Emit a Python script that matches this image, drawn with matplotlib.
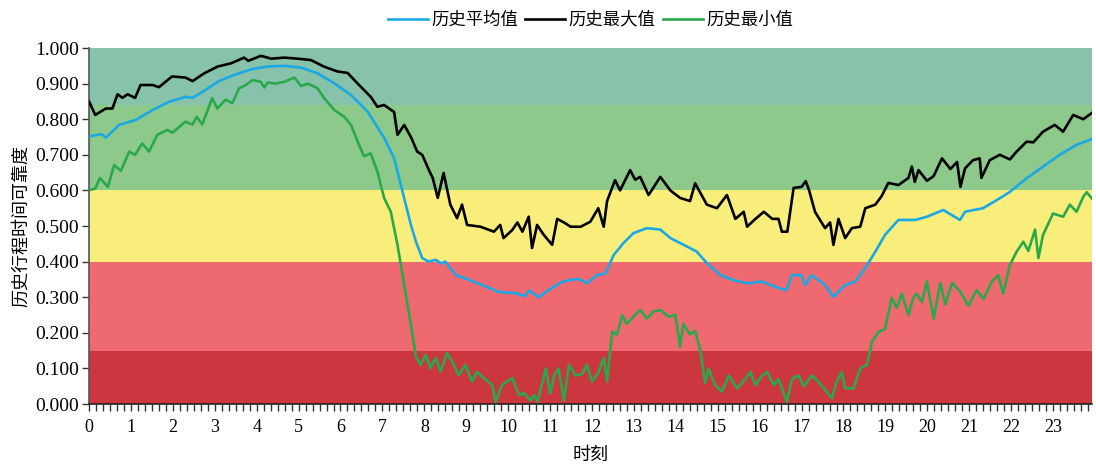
import numpy as np
import matplotlib
matplotlib.use("Agg")
import matplotlib.pyplot as plt
from matplotlib.ticker import MultipleLocator

plt.rcParams['font.family'] = ['Liberation Serif', 'Noto Sans CJK SC', 'DejaVu Sans']

# 历史平均值
t_mean = [0.00, 0.09, 0.30, 0.40, 0.72, 1.12, 1.52, 1.91, 2.31, 2.47, 2.71, 3.10, 3.50, 3.90,
          4.26, 4.66, 5.06, 5.45, 5.85, 6.25, 6.65, 7.05, 7.28, 7.44, 7.68, 7.80, 7.95, 8.10,
          8.27, 8.40, 8.50, 8.75, 8.98, 9.38, 9.77, 10.18, 10.40, 10.50, 10.73, 10.96, 11.30,
          11.56, 11.72, 11.88, 12.12, 12.32, 12.52, 12.75, 12.99, 13.31, 13.63, 13.87, 14.19,
          14.50, 14.74, 15.06, 15.38, 15.70, 16.06, 16.44, 16.64, 16.77, 17.00, 17.08, 17.24,
          17.56, 17.76, 18.04, 18.28, 18.52, 18.76, 18.99, 19.31, 19.71, 19.99, 20.38, 20.78,
          20.90, 21.33, 21.73, 21.97, 22.37, 22.76, 23.16, 23.56, 23.92]
v_mean = [0.750, 0.754, 0.758, 0.748, 0.784, 0.798, 0.826, 0.849, 0.863, 0.860, 0.877, 0.907,
          0.926, 0.941, 0.948, 0.950, 0.945, 0.929, 0.901, 0.868, 0.821, 0.746, 0.690, 0.615,
          0.503, 0.456, 0.410, 0.400, 0.405, 0.395, 0.400, 0.362, 0.353, 0.334, 0.315, 0.311,
          0.303, 0.319, 0.300, 0.320, 0.344, 0.350, 0.350, 0.339, 0.362, 0.367, 0.419, 0.452,
          0.480, 0.494, 0.490, 0.466, 0.447, 0.428, 0.396, 0.362, 0.348, 0.339, 0.344, 0.326,
          0.320, 0.362, 0.362, 0.334, 0.362, 0.334, 0.301, 0.334, 0.344, 0.382, 0.428, 0.475,
          0.517, 0.517, 0.526, 0.545, 0.517, 0.540, 0.550, 0.578, 0.596, 0.634, 0.667, 0.700,
          0.728, 0.744]

# 历史最大值
t_max = [0.00, 0.15, 0.40, 0.56, 0.68, 0.80, 0.92, 1.10, 1.23, 1.52, 1.67, 1.98, 2.30, 2.47,
         2.75, 3.07, 3.39, 3.70, 3.80, 4.10, 4.35, 4.66, 4.98, 5.30, 5.60, 5.93, 6.17, 6.41,
         6.72, 6.88, 7.04, 7.28, 7.36, 7.52, 7.68, 7.83, 7.95, 8.11, 8.20, 8.32, 8.46, 8.62,
         8.78, 8.90, 9.02, 9.34, 9.66, 9.81, 9.89, 10.10, 10.22, 10.34, 10.49, 10.57, 10.69,
         10.85, 11.05, 11.17, 11.33, 11.49, 11.73, 11.96, 12.15, 12.28, 12.36, 12.55, 12.67,
         12.91, 13.03, 13.15, 13.35, 13.63, 13.87, 14.10, 14.34, 14.46, 14.74, 14.98, 15.22,
         15.42, 15.62, 15.70, 15.90, 16.10, 16.30, 16.45, 16.53, 16.66, 16.81, 17.00, 17.10,
         17.18, 17.32, 17.56, 17.68, 17.76, 17.88, 18.04, 18.20, 18.40, 18.52, 18.76, 18.91,
         19.07, 19.31, 19.55, 19.63, 19.70, 19.79, 19.99, 20.15, 20.35, 20.55, 20.71, 20.79,
         20.90, 21.09, 21.25, 21.29, 21.49, 21.73, 21.97, 22.13, 22.37, 22.53, 22.76, 23.04,
         23.24, 23.48, 23.72, 23.92]
v_max = [0.850, 0.812, 0.830, 0.830, 0.870, 0.860, 0.870, 0.860, 0.896, 0.896, 0.890, 0.920,
         0.917, 0.907, 0.929, 0.948, 0.957, 0.973, 0.964, 0.978, 0.970, 0.973, 0.970, 0.966,
         0.948, 0.934, 0.930, 0.900, 0.863, 0.835, 0.840, 0.820, 0.756, 0.784, 0.750, 0.709,
         0.700, 0.657, 0.635, 0.579, 0.649, 0.560, 0.522, 0.560, 0.503, 0.498, 0.484, 0.503,
         0.466, 0.489, 0.510, 0.484, 0.526, 0.438, 0.503, 0.475, 0.447, 0.520, 0.510, 0.498,
         0.498, 0.512, 0.550, 0.498, 0.570, 0.629, 0.600, 0.657, 0.630, 0.638, 0.587, 0.638,
         0.600, 0.579, 0.570, 0.620, 0.560, 0.550, 0.587, 0.520, 0.540, 0.498, 0.520, 0.540,
         0.520, 0.520, 0.484, 0.484, 0.607, 0.610, 0.626, 0.600, 0.540, 0.494, 0.510, 0.447,
         0.520, 0.466, 0.494, 0.498, 0.550, 0.560, 0.584, 0.621, 0.615, 0.635, 0.667, 0.624,
         0.657, 0.627, 0.640, 0.690, 0.660, 0.680, 0.610, 0.662, 0.685, 0.690, 0.635, 0.685,
         0.700, 0.687, 0.709, 0.737, 0.735, 0.765, 0.784, 0.765, 0.812, 0.800, 0.817]

# 历史最小值
t_min = [0.00, 0.15, 0.26, 0.45, 0.60, 0.76, 0.96, 1.10, 1.27, 1.43, 1.63, 1.87, 1.99, 2.30,
         2.47, 2.57, 2.70, 2.94, 3.06, 3.26, 3.42, 3.58, 3.73, 3.90, 4.10, 4.18, 4.26, 4.45,
         4.66, 4.90, 5.06, 5.22, 5.45, 5.61, 5.85, 6.09, 6.25, 6.41, 6.56, 6.72, 6.88, 7.04,
         7.20, 7.36, 7.52, 7.68, 7.80, 7.91, 8.03, 8.15, 8.27, 8.39, 8.54, 8.66, 8.82, 8.98,
         9.14, 9.26, 9.42, 9.62, 9.70, 9.85, 10.10, 10.26, 10.38, 10.54, 10.62, 10.70, 10.90,
         11.00, 11.10, 11.20, 11.33, 11.45, 11.61, 11.77, 11.88, 12.00, 12.16, 12.28, 12.36,
         12.48, 12.60, 12.72, 12.83, 12.99, 13.15, 13.31, 13.47, 13.63, 13.83, 13.99, 14.10,
         14.18, 14.34, 14.46, 14.58, 14.70, 14.78, 14.94, 15.10, 15.26, 15.46, 15.66, 15.78,
         15.90, 16.06, 16.18, 16.34, 16.45, 16.65, 16.77, 16.93, 17.05, 17.25, 17.40, 17.56,
         17.72, 17.84, 17.96, 18.04, 18.24, 18.40, 18.56, 18.68, 18.84, 18.99, 19.15, 19.27,
         19.39, 19.55, 19.67, 19.75, 19.87, 19.99, 20.15, 20.31, 20.43, 20.59, 20.79, 20.98,
         21.18, 21.34, 21.54, 21.69, 21.81, 21.97, 22.13, 22.29, 22.41, 22.57, 22.65, 22.76,
         23.00, 23.24, 23.40, 23.56, 23.72, 23.80, 23.92]
v_min = [0.601, 0.605, 0.635, 0.610, 0.671, 0.655, 0.709, 0.700, 0.732, 0.709, 0.756, 0.770,
         0.762, 0.793, 0.785, 0.807, 0.785, 0.859, 0.830, 0.855, 0.845, 0.887, 0.895, 0.910,
         0.905, 0.889, 0.903, 0.900, 0.905, 0.917, 0.893, 0.900, 0.887, 0.859, 0.826, 0.807,
         0.784, 0.737, 0.696, 0.704, 0.653, 0.579, 0.540, 0.447, 0.334, 0.222, 0.133, 0.110,
         0.138, 0.100, 0.130, 0.091, 0.143, 0.120, 0.081, 0.110, 0.063, 0.090, 0.073, 0.053,
         0.006, 0.053, 0.073, 0.025, 0.030, 0.010, 0.025, 0.007, 0.100, 0.030, 0.080, 0.100,
         0.010, 0.110, 0.080, 0.085, 0.110, 0.063, 0.090, 0.130, 0.063, 0.203, 0.195, 0.250,
         0.225, 0.245, 0.264, 0.240, 0.260, 0.264, 0.245, 0.250, 0.161, 0.225, 0.195, 0.205,
         0.153, 0.059, 0.100, 0.053, 0.035, 0.080, 0.044, 0.070, 0.090, 0.053, 0.080, 0.090,
         0.053, 0.070, 0.006, 0.070, 0.080, 0.050, 0.080, 0.063, 0.040, 0.016, 0.063, 0.090,
         0.044, 0.044, 0.100, 0.110, 0.175, 0.203, 0.210, 0.298, 0.270, 0.310, 0.250, 0.300,
         0.310, 0.286, 0.344, 0.240, 0.340, 0.280, 0.340, 0.315, 0.276, 0.320, 0.295, 0.344,
         0.362, 0.310, 0.390, 0.428, 0.456, 0.430, 0.490, 0.410, 0.475, 0.535, 0.526, 0.560,
         0.540, 0.582, 0.595, 0.578]

# 可靠度分级背景带
band_edges = [0.0, 0.15, 0.40, 0.60, 0.84, 1.00]
band_colors = ['#cb363f', '#ee6a70', '#f9ee7c', '#8dc98a', '#87c3aa']

hour_ticks = list(range(24))

fig = plt.figure(figsize=(10.96, 4.67), dpi=100)
ax = fig.add_axes([0.0812, 0.1349, 0.9152, 0.7623])

for i in range(len(band_colors)):
    ax.axhspan(band_edges[i], band_edges[i + 1], color=band_colors[i], lw=0, zorder=0)

ax.plot(t_mean, v_mean, color='#1aa9e6', lw=1.9, label='历史平均值', zorder=3)
ax.plot(t_max, v_max, color='black', lw=1.9, label='历史最大值', zorder=3)
ax.plot(t_min, v_min, color='#2aa94a', lw=1.9, label='历史最小值', zorder=3)

ax.set_xlim(0, 23.93)
ax.set_ylim(0, 1.0)
ax.set_xticks(hour_ticks)
ax.set_xticklabels([str(h) for h in hour_ticks])
ax.xaxis.set_minor_locator(MultipleLocator(1 / 6))
ax.set_yticks(np.arange(0, 1.01, 0.1))
ax.set_yticklabels(['%.3f' % v for v in np.arange(0, 1.01, 0.1)])

ax.tick_params(axis='both', which='both', direction='out', length=5, width=1, color='#333333')
ax.tick_params(axis='x', which='major', labelsize=13, pad=6)
ax.tick_params(axis='y', which='major', labelsize=14, pad=2)

for s in ['top', 'right']:
    ax.spines[s].set_visible(False)
ax.spines['left'].set_color('#555555')
ax.spines['bottom'].set_color('#222222')
ax.spines['left'].set_linewidth(1.2)
ax.spines['bottom'].set_linewidth(1.2)

ax.set_xlabel('时刻', fontsize=13, labelpad=8)
ax.set_ylabel('历史行程时间可靠度', fontsize=13, labelpad=4)

ax.legend(loc='lower center', bbox_to_anchor=(0.5, 1.01), ncol=3, frameon=False,
          fontsize=12.5, handlelength=2.3, handletextpad=0.2, columnspacing=0.4)

fig.savefig('out.png', dpi=100)
